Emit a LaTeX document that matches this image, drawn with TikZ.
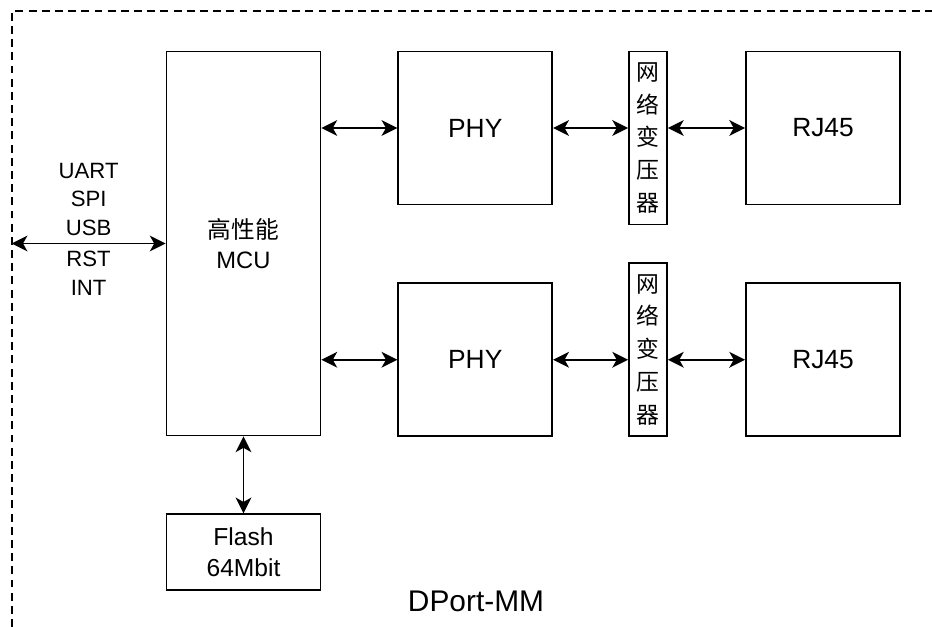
\documentclass[tikz,border=0pt]{standalone}
\usepackage{fontspec}
\setmainfont{Liberation Sans}
\newfontfamily\cjk{Noto Sans CJK SC}
\usepackage{tikz}
\usetikzlibrary{arrows.meta, positioning, calc}
\tikzset{
  block/.style={rectangle, draw=black, minimum width=3.08cm, minimum height=3.06cm,
    align=center, inner sep=0pt, line width=1pt, font=\fontsize{15}{18}\selectfont},
  mcublock/.style={block, minimum width=3.08cm, minimum height=7.68cm,
    font=\fontsize{13.5}{17.5}\selectfont},
  flashblock/.style={block, minimum width=3.08cm, minimum height=1.52cm,
    font=\fontsize{14}{17.6}\selectfont},
  xfmr/.style={rectangle, draw=black, minimum width=0.76cm, minimum height=3.46cm,
    align=center, inner sep=0pt, line width=1pt, font=\cjk\fontsize{13}{18.7}\selectfont},
  biarrow/.style={{Stealth[length=9pt,width=9pt,inset=2.5pt]}-{Stealth[length=9pt,width=9pt,inset=2.5pt]}, line width=1pt},
  border/.style={dashed, dash pattern=on 4.5pt off 3pt, line width=1pt}
}

\begin{document}
\begin{tikzpicture}
  \useasboundingbox (0,0) rectangle (18.64,-12.54);

  % Module outline
  \draw[border] (0.24,-12.54) |- (18.64,-0.22);

  % MCU and flash
  \node[mcublock] (mcu) at (4.87,-4.87) {{\cjk 高性能}\\MCU};
  \node[flashblock, below=1.54cm of mcu] (flash) {Flash\\64Mbit};

  % Ethernet ports
  \node[block, below right=0cm and 1.52cm of mcu.north east] (phy1) {PHY};
  \node[block, below=1.54cm of phy1] (phy2) {PHY};
  \node[xfmr, below right=0cm and 1.5cm of phy1.north east] (xfmr1) {网\\络\\变\\压\\器};
  \node[xfmr, above right=0cm and 1.5cm of phy2.south east] (xfmr2) {网\\络\\变\\压\\器};
  \node[block, right=3.84cm of phy1] (rj1) {RJ45};
  \node[block, right=3.84cm of phy2] (rj2) {RJ45};

  % Host interface
  \coordinate[left=3.08cm of mcu.west] (host);
  \draw[biarrow] (host) -- (mcu.west)
    node[midway, above, inner sep=4pt, align=center, font=\fontsize{12.6}{16.2}\selectfont] (busup) {UART\\SPI\\USB}
    node[midway, below, inner sep=4pt, align=center, font=\fontsize{12.6}{16.2}\selectfont] (busdn) {RST\\INT};

  % Links
  \draw[biarrow] (mcu.south) -- (flash.north);
  \draw[biarrow] (phy1.west -| mcu.east) -- (phy1.west);
  \draw[biarrow] (phy2.west -| mcu.east) -- (phy2.west);
  \draw[biarrow] (phy1.east) -- (phy1.east -| xfmr1.west);
  \draw[biarrow] (phy2.east) -- (phy2.east -| xfmr2.west);
  \draw[biarrow] (phy1.east -| xfmr1.east) -- (rj1.west);
  \draw[biarrow] (phy2.east -| xfmr2.east) -- (rj2.west);

  % Module name
  \node[font=\fontsize{17}{20}\selectfont] (title) at (9.52,-12.02) {DPort-MM};
\end{tikzpicture}
\end{document}
